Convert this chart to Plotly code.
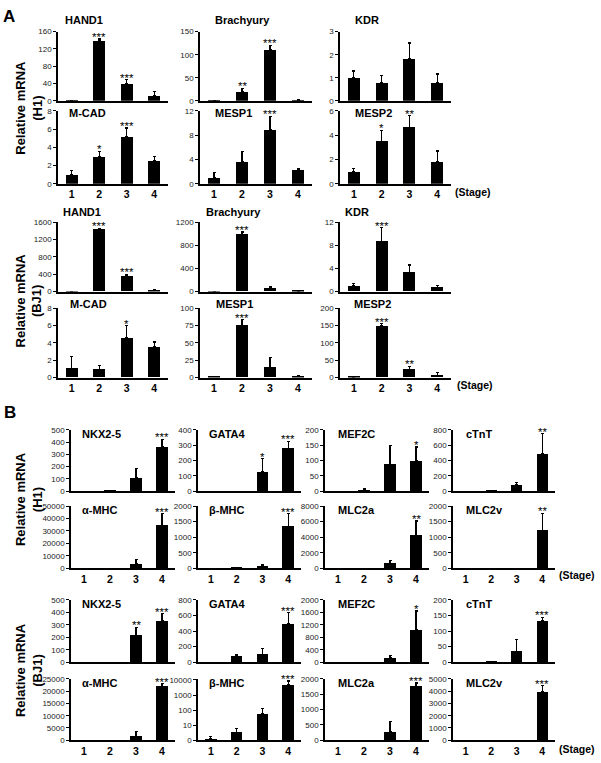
import math
import plotly.graph_objects as go

W, H = 601, 763

stages = [1, 2, 3, 4]
stage_labels = ["1", "2", "3", "4"]

# ---------------- Panel A, H1 ----------------
a_h1_genes = ["HAND1", "Brachyury", "KDR", "M-CAD", "MESP1", "MESP2"]
a_h1_mean = [[1, 140, 40, 12], [0.5, 20, 111, 2], [0.99, 0.79, 1.82, 0.79],
             [1.05, 3.0, 5.15, 2.5], [1.05, 3.6, 8.85, 2.3], [1.0, 3.5, 4.65, 1.8]]
a_h1_err = [[0, 3, 9, 9], [0, 7, 9, 1], [0.3, 0.31, 0.69, 0.37],
            [0.4, 0.55, 0.95, 0.45], [0.8, 1.7, 2.25, 0.25], [0.26, 0.9, 0.95, 0.9]]
a_h1_sig = [["", "***", "***", ""], ["", "**", "***", ""], ["", "", "", ""],
            ["", "*", "***", ""], ["", "", "***", ""], ["", "*", "**", ""]]
a_h1_ymax = [160, 150, 3, 8, 12, 6]
a_h1_dtick = [40, 50, 1, 2, 4, 2]

# ---------------- Panel A, BJ1 ----------------
a_bj1_genes = ["HAND1", "Brachyury", "KDR", "M-CAD", "MESP1", "MESP2"]
a_bj1_mean = [[1, 1440, 360, 30], [1, 985, 57, 5], [0.98, 8.7, 3.25, 0.7],
              [1.06, 0.91, 4.57, 3.54], [1, 75.5, 14.5, 2], [1, 149, 24, 6.5]]
a_bj1_err = [[0, 20, 35, 10], [0, 50, 23, 3], [0.47, 2.4, 1.35, 0.4],
             [1.4, 0.5, 1.43, 0.56], [1, 8, 14.5, 1], [0, 7, 8, 7.5]]
a_bj1_sig = [["", "***", "***", ""], ["", "***", "", ""], ["", "***", "", ""],
             ["", "", "*", ""], ["", "***", "", ""], ["", "***", "**", ""]]
a_bj1_ymax = [1600, 1200, 12, 8, 100, 200]
a_bj1_dtick = [400, 400, 4, 2, 25, 50]

# ---------------- Panel B, H1 ----------------
b_h1_genes = ["NKX2-5", "GATA4", "MEF2C", "cTnT", "α-MHC", "β-MHC", "MLC2a", "MLC2v"]
b_h1_mean = [[0, 5, 107, 360], [0, 0, 125, 280], [0, 5, 88, 100], [0, 5, 80, 490],
             [0, 0, 3400, 34500], [0, 10, 70, 1350], [0, 0, 630, 4230], [0, 0, 0, 1220]]
b_h1_err = [[0, 3, 80, 65], [0, 0, 88, 45], [0, 3, 61, 44], [0, 0, 33, 258],
            [0, 0, 3500, 9200], [0, 0, 60, 400], [0, 0, 340, 1840], [0, 0, 0, 550]]
b_h1_sig = [["", "", "", "***"], ["", "", "*", "***"], ["", "", "", "*"], ["", "", "", "**"],
            ["", "", "", "***"], ["", "", "", "***"], ["", "", "", "**"], ["", "", "", "**"]]
b_h1_ymax = [500, 400, 200, 800, 50000, 2000, 8000, 2000]
b_h1_dtick = [100, 100, 50, 200, 10000, 500, 2000, 500]

# ---------------- Panel B, BJ1 ----------------
b_bj1_genes = ["NKX2-5", "GATA4", "MEF2C", "cTnT", "α-MHC", "β-MHC", "MLC2a", "MLC2v"]
b_bj1_mean = [[0, 0, 215, 335], [0, 80, 100, 494], [0, 0, 140, 1030], [0, 1, 35, 133],
              [0, 0, 1630, 22000], [1.2, 3.3, 55, 4800], [0, 0, 270, 1760], [0, 0, 0, 3980]]
b_bj1_err = [[0, 0, 65, 55], [0, 12, 77, 142], [0, 0, 76, 610], [0, 0, 38, 11],
             [0, 0, 1770, 1000], [0.5, 2.7, 80, 3900], [0, 0, 330, 110], [0, 0, 0, 480]]
b_bj1_sig = [["", "", "**", "***"], ["", "", "", "***"], ["", "", "", "*"], ["", "", "", "***"],
             ["", "", "", "***"], ["", "", "", "***"], ["", "", "", "***"], ["", "", "", "***"]]
b_bj1_ymax = [500, 800, 2000, 200, 25000, 10000, 2000, 5000]
b_bj1_dtick = [100, 200, 400, 50, 5000, None, 500, 1000]
b_bj1_log_ticks = [1, 10, 100, 1000, 10000]
b_bj1_log_text = ["0", "10", "100", "1000", "10000"]

# ---------------- Layout geometry (pixels) ----------------
A_COLS = [(58, 168), (200, 312), (340, 451)]
A_ROWS = [(28, 98), (108, 182), (221, 291), (308, 378)]
A_TITLE_DX = [[5, 13, 13], [9, 13, 13], [3, 4, 3], [10, 14, 12]]
A_TITLE_Y = [16, 110, 210, 304]

B_COLS = [(71, 175), (198, 301), (325, 429), (453, 555)]
B_ROWS = [(431, 493), (508, 571), (603, 666), (683, 745)]
B_TITLE_DX = [9, 9, 11, 11]
B_TITLE_DY = 4

FONT = "Liberation Sans, Arial, sans-serif"

fig = go.Figure()
layout = dict(width=W, height=H, margin=dict(l=0, r=0, t=0, b=0),
              paper_bgcolor="white", plot_bgcolor="white", showlegend=False,
              font=dict(family=FONT, color="black"), bargap=0)
annotations = []
panel_idx = [0]


def px_x(x):
    return x / W


def px_y(y):
    return 1 - y / H


def add_panel(col, row, gene, mean, err, sig, ymax, dtick, show_x, title_x, title_y,
              log=False):
    panel_idx[0] += 1
    i = panel_idx[0]
    sx = "" if i == 1 else str(i)
    xa, ya = "x" + sx, "y" + sx
    fig.add_trace(go.Bar(
        x=stages, y=mean, width=0.44, marker=dict(color="black", line=dict(width=0)),
        error_y=dict(type="data", symmetric=False, array=err, arrayminus=[0] * 4,
                     color="black", thickness=1.2, width=1.5),
        xaxis=xa, yaxis=ya, showlegend=False, hoverinfo="skip"))
    layout["xaxis" + sx] = dict(
        domain=[px_x(col[0]), px_x(col[1])], anchor=ya, range=[0.5, 4.5],
        showline=True, linecolor="black", linewidth=2, showgrid=False, zeroline=False,
        tickvals=stages, ticktext=stage_labels, showticklabels=show_x, ticks="",
        tickfont=dict(size=10.5, family=FONT, color="black", weight="bold"), fixedrange=True)
    yax = dict(
        domain=[px_y(row[1]), px_y(row[0])], anchor=xa,
        showline=True, linecolor="black", linewidth=1.5, showgrid=False, zeroline=False,
        ticks="outside", ticklen=3, tickwidth=1, tickcolor="black",
        tickfont=dict(size=8, family=FONT, color="#222"), fixedrange=True)
    if log:
        yax.update(type="log", range=[0, 4.07], tickvals=b_bj1_log_ticks,
                   ticktext=b_bj1_log_text)
    else:
        yax.update(range=[0, ymax], tick0=0, dtick=dtick, tickformat="d")
    layout["yaxis" + sx] = yax
    annotations.append(dict(
        text=f"<b>{gene}</b>", xref="paper", yref="paper", x=px_x(title_x), y=px_y(title_y),
        xanchor="left", yanchor="middle", showarrow=False,
        font=dict(size=11, family=FONT, color="black")))
    for s, m, e, sg in zip(stages, mean, err, sig):
        if sg:
            top = m + e
            annotations.append(dict(
                text=sg, xref=xa, yref=ya, x=s, y=math.log10(top) if log else top,
                xanchor="center", yanchor="bottom", yshift=-6, showarrow=False,
                font=dict(size=11.5, family=FONT, color="black")))


# Panel A
for block, (genes, means, errs, sigs, ymaxs, dticks) in enumerate([
        (a_h1_genes, a_h1_mean, a_h1_err, a_h1_sig, a_h1_ymax, a_h1_dtick),
        (a_bj1_genes, a_bj1_mean, a_bj1_err, a_bj1_sig, a_bj1_ymax, a_bj1_dtick)]):
    for k in range(6):
        r = block * 2 + k // 3
        c = k % 3
        add_panel(A_COLS[c], A_ROWS[r], genes[k], means[k], errs[k], sigs[k], ymaxs[k],
                  dticks[k], show_x=(k // 3 == 1), title_x=A_COLS[c][0] + A_TITLE_DX[r][c],
                  title_y=A_TITLE_Y[r])

# Panel B
for block, (genes, means, errs, sigs, ymaxs, dticks) in enumerate([
        (b_h1_genes, b_h1_mean, b_h1_err, b_h1_sig, b_h1_ymax, b_h1_dtick),
        (b_bj1_genes, b_bj1_mean, b_bj1_err, b_bj1_sig, b_bj1_ymax, b_bj1_dtick)]):
    for k in range(8):
        r = block * 2 + k // 4
        c = k % 4
        add_panel(B_COLS[c], B_ROWS[r], genes[k], means[k], errs[k], sigs[k], ymaxs[k],
                  dticks[k], show_x=(k // 4 == 1), title_x=B_COLS[c][0] + B_TITLE_DX[c],
                  title_y=B_ROWS[r][0] + B_TITLE_DY, log=(block == 1 and k == 5))

# Panel letters
for letter, (lx, ly) in [("A", (9, 13)), ("B", (10, 413))]:
    annotations.append(dict(text=f"<b>{letter}</b>", xref="paper", yref="paper",
                            x=px_x(lx), y=px_y(ly), xanchor="center", yanchor="middle",
                            showarrow=False, font=dict(size=17, family=FONT, color="black")))

# Y axis labels
for cell, cy in [("H1", 105), ("BJ1", 300), ("H1", 501), ("BJ1", 674)]:
    annotations.append(dict(text=f"<b>Relative mRNA<br>({cell})</b>", xref="paper", yref="paper",
                            x=px_x(29), y=px_y(cy), xanchor="center", yanchor="middle",
                            textangle=-90, showarrow=False,
                            font=dict(size=13, family=FONT, color="black")))

# Stage labels
for sx_, sy_ in [(473, 190), (475, 386), (577, 578), (577, 754)]:
    annotations.append(dict(text="<b>(Stage)</b>", xref="paper", yref="paper",
                            x=px_x(sx_), y=px_y(sy_), xanchor="center", yanchor="middle",
                            showarrow=False, font=dict(size=10.5, family=FONT, color="black")))

layout["annotations"] = annotations
fig.update_layout(**layout)
fig.write_html("out.html", config={"displayModeBar": False},
               post_script="document.body.style.margin='0';document.body.style.overflow='hidden';")
